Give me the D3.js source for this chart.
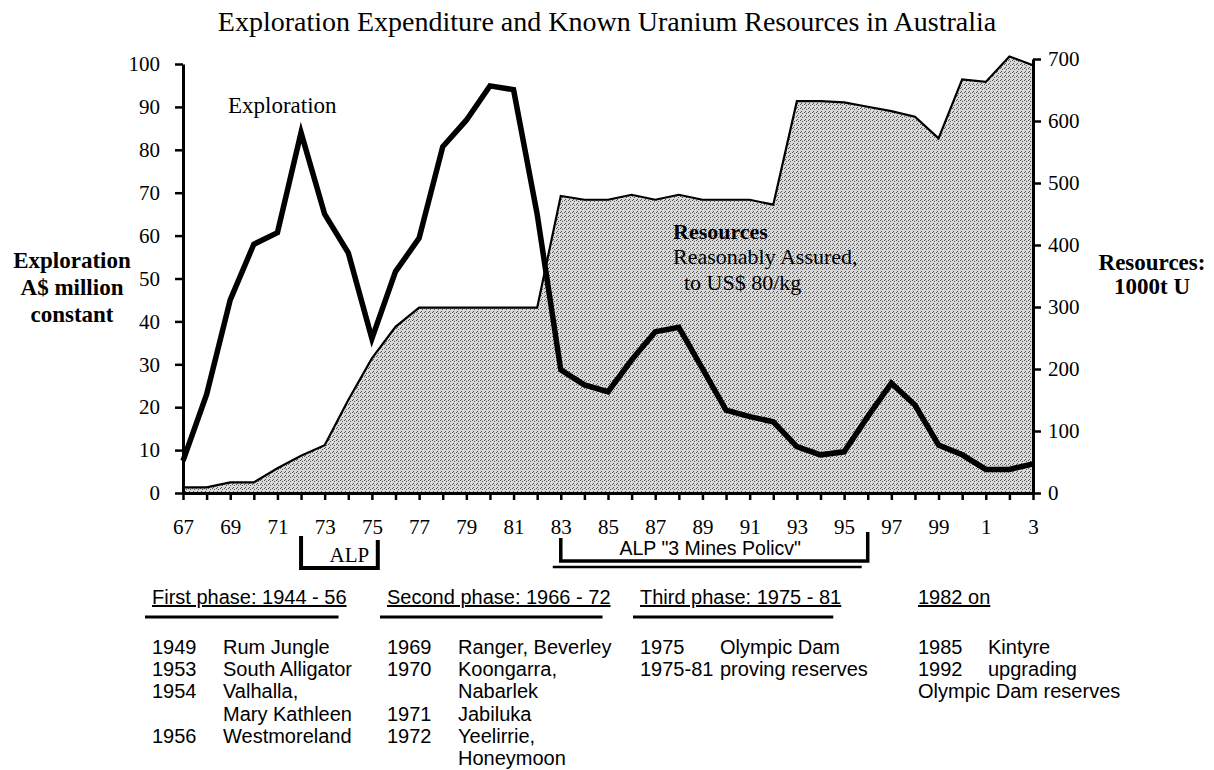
<!DOCTYPE html>
<html>
<head>
<meta charset="utf-8">
<script src="https://cdn.jsdelivr.net/npm/d3@7"></script>
<style>
  body { margin: 0; background: #fff; }
  svg { display: block; }
</style>
</head>
<body>
<svg id="chart" width="1214" height="770"></svg>
<script>
// data
const years = [1967, 1968, 1969, 1970, 1971, 1972, 1973, 1974, 1975, 1976, 1977, 1978, 1979,
  1980, 1981, 1982, 1983, 1984, 1985, 1986, 1987, 1988, 1989, 1990, 1991, 1992, 1993,
  1994, 1995, 1996, 1997, 1998, 1999, 2000, 2001, 2002, 2003];
// A$ million constant (left axis)
const exploration = [7.5, 23, 45, 58, 60.7, 84, 65, 56, 36, 51.6, 59.4, 80.7, 86.9,
  94.9, 94, 65, 28.7, 25.2, 23.6, 31, 37.6, 38.6, 29, 19.3, 17.8, 16.6, 10.8,
  8.9, 9.6, 17.8, 25.6, 20.5, 11.2, 8.9, 5.5, 5.5, 6.8];
// 1000t U, reasonably assured to US$ 80/kg (right axis)
const resources = [9, 9, 17, 17, 40, 60, 77, 150, 217, 268, 299, 299, 299,
  299, 299, 299, 479, 473, 473, 481, 473, 481, 473, 473, 473, 465, 632,
  632, 630, 623, 616, 607, 572, 667, 663, 704, 690];

const tickYears = [1967, 1969, 1971, 1973, 1975, 1977, 1979, 1981, 1983, 1985, 1987, 1989,
  1991, 1993, 1995, 1997, 1999, 2001, 2003];
const tickLabels = ["67", "69", "71", "73", "75", "77", "79", "81", "83", "85", "87", "89",
  "91", "93", "95", "97", "99", "1", "3"];
const leftTicks = [0, 10, 20, 30, 40, 50, 60, 70, 80, 90, 100];
const rightTicks = [0, 100, 200, 300, 400, 500, 600, 700];

const policyStart = [1972, 1983];
const policyEnd = [1975.25, 1996];
const policyLabels = ["ALP", "ALP \"3 Mines Policv\""];

const phaseHeads = ["First phase: 1944 - 56", "Second phase: 1966 - 72",
  "Third phase: 1975 - 81", "1982 on"];
const phaseRows = [
  [["1949", "Rum Jungle"], ["1953", "South Alligator"], ["1954", "Valhalla,"],
   ["", "Mary Kathleen"], ["1956", "Westmoreland"]],
  [["1969", "Ranger, Beverley"], ["1970", "Koongarra,"], ["", "Nabarlek"],
   ["1971", "Jabiluka"], ["1972", "Yeelirrie,"], ["", "Honeymoon"]],
  [["1975", "Olympic Dam"], ["1975-81", "proving reserves"]],
  [["1985", "Kintyre"], ["1992", "upgrading"], ["Olympic Dam reserves", ""]]
];

const SERIF = "'Liberation Serif', 'Times New Roman', serif";
const SANS = "'Liberation Sans', Arial, sans-serif";

const svg = d3.select("#chart");

const x = d3.scaleLinear().domain([1967, 2003]).range([183, 1033]);
const yL = d3.scaleLinear().domain([0, 100]).range([493, 64]);
const yR = d3.scaleLinear().domain([0, 700]).range([493, 59]);

// stipple fill like the printed original
const pat = svg.append("defs").append("pattern")
  .attr("id", "stipple").attr("width", 4).attr("height", 4)
  .attr("patternUnits", "userSpaceOnUse");
pat.append("rect").attr("width", 4).attr("height", 4).attr("fill", "#dadada");
[[0, 0], [2, 1], [1, 3]].forEach(p => {
  pat.append("rect").attr("x", p[0]).attr("y", p[1]).attr("width", 1).attr("height", 1)
    .attr("fill", "#555");
});

const resData = years.map((yr, i) => ({ year: yr, value: resources[i] }));
const expData = years.map((yr, i) => ({ year: yr, value: exploration[i] }));

svg.append("path")
  .datum(resData)
  .attr("fill", "url(#stipple)")
  .attr("d", d3.area().x(d => x(d.year)).y0(yR(0)).y1(d => yR(d.value)));

svg.append("path")
  .datum(resData)
  .attr("fill", "none")
  .attr("stroke", "#000")
  .attr("stroke-width", 2.2)
  .attr("d", d3.line().x(d => x(d.year)).y(d => yR(d.value)));

svg.append("path")
  .datum(expData)
  .attr("fill", "none")
  .attr("stroke", "#000")
  .attr("stroke-width", 5.5)
  .attr("stroke-linejoin", "miter")
  .attr("stroke-miterlimit", 6)
  .attr("d", d3.line().x(d => x(d.year)).y(d => yL(d.value)));

// axes
function styleAxis(g) {
  g.attr("font-family", SERIF).attr("font-size", 21);
  g.select(".domain").attr("stroke-width", 3);
  g.selectAll(".tick line").attr("stroke-width", 2.5);
  g.selectAll(".tick text").attr("fill", "#000");
}

svg.append("g")
  .attr("transform", "translate(0," + yL(0) + ")")
  .call(d3.axisBottom(x).tickValues(years).tickSize(7).tickSizeOuter(0).tickPadding(19)
    .tickFormat(d => {
      const k = tickYears.indexOf(d);
      return k < 0 ? "" : tickLabels[k];
    }))
  .call(styleAxis);

svg.append("g")
  .attr("transform", "translate(" + x(1967) + ",0)")
  .call(d3.axisLeft(yL).tickValues(leftTicks).tickSize(8).tickSizeOuter(0).tickPadding(15))
  .call(styleAxis);

svg.append("g")
  .attr("transform", "translate(" + x(2003) + ",0)")
  .call(d3.axisRight(yR).tickValues(rightTicks).tickSize(8).tickSizeOuter(0).tickPadding(7))
  .call(styleAxis);

// title
svg.append("text")
  .attr("x", 607).attr("y", 31)
  .attr("text-anchor", "middle")
  .attr("font-family", SERIF).attr("font-size", 28)
  .text("Exploration Expenditure and Known Uranium Resources in Australia");

// axis titles
const leftTitle = ["Exploration", "A$ million", "constant"];
svg.append("g").selectAll("text").data(leftTitle).enter().append("text")
  .attr("x", 72).attr("y", (d, i) => 268 + i * 27)
  .attr("text-anchor", "middle")
  .attr("font-family", SERIF).attr("font-size", 23).attr("font-weight", "bold")
  .text(d => d);

const rightTitle = ["Resources:", "1000t U"];
svg.append("g").selectAll("text").data(rightTitle).enter().append("text")
  .attr("x", 1152).attr("y", (d, i) => 270 + i * 24)
  .attr("text-anchor", "middle")
  .attr("font-family", SERIF).attr("font-size", 23).attr("font-weight", "bold")
  .text(d => d);

// series labels inside the plot
svg.append("text")
  .attr("x", 228).attr("y", 113)
  .attr("font-family", SERIF).attr("font-size", 23)
  .text("Exploration");

svg.append("text")
  .attr("x", 673).attr("y", 239)
  .attr("font-family", SERIF).attr("font-size", 22).attr("font-weight", "bold")
  .text("Resources");
svg.append("text")
  .attr("x", 673).attr("y", 264)
  .attr("font-family", SERIF).attr("font-size", 22)
  .text("Reasonably Assured,");
svg.append("text")
  .attr("x", 673).attr("y", 290)
  .attr("font-family", SERIF).attr("font-size", 22)
  .attr("xml:space", "preserve")
  .text("  to US$ 80/kg");

// ALP government brackets
const b0 = [x(policyStart[0]), x(policyEnd[0])];
svg.append("path")
  .attr("fill", "none").attr("stroke", "#000").attr("stroke-width", 4)
  .attr("d", "M" + b0[0] + ",536V568H" + b0[1] + "V540");
svg.append("text")
  .attr("x", (b0[0] + b0[1]) / 2 + 10).attr("y", 562)
  .attr("text-anchor", "middle")
  .attr("font-family", SERIF).attr("font-size", 21)
  .text(policyLabels[0]);

const b1 = [x(policyStart[1]), x(policyEnd[1])];
svg.append("path")
  .attr("fill", "none").attr("stroke", "#000").attr("stroke-width", 3.5)
  .attr("d", "M" + b1[0] + ",538V561H" + b1[1] + "V532");
svg.append("line")
  .attr("x1", b1[0] - 8).attr("x2", b1[1] - 6).attr("y1", 567).attr("y2", 567)
  .attr("stroke", "#000").attr("stroke-width", 2.5);
svg.append("text")
  .attr("x", (b1[0] + b1[1]) / 2 - 4).attr("y", 555)
  .attr("text-anchor", "middle")
  .attr("font-family", SANS).attr("font-size", 19.5)
  .text(policyLabels[1]);

// exploration phases table
const colYear = [152, 387, 640, 918];
const colName = [223, 458, 720, 988];
const rowStep = 22.2;

phaseHeads.forEach((h, c) => {
  const t = svg.append("text")
    .attr("x", colYear[c]).attr("y", 604)
    .attr("font-family", SANS).attr("font-size", 20)
    .attr("text-decoration", "underline")
    .text(h);
  if (c < 3) {
    const len = t.node().getComputedTextLength();
    svg.append("line")
      .attr("x1", colYear[c] - 7).attr("x2", colYear[c] + len - 8)
      .attr("y1", 617).attr("y2", 617)
      .attr("stroke", "#000").attr("stroke-width", 3);
  }
  const rows = svg.append("g")
    .attr("font-family", SANS).attr("font-size", 20)
    .selectAll("g").data(phaseRows[c]).enter().append("g");
  rows.append("text")
    .attr("x", colYear[c]).attr("y", (d, i) => 654 + i * rowStep)
    .text(d => d[0]);
  rows.append("text")
    .attr("x", colName[c]).attr("y", (d, i) => 654 + i * rowStep)
    .text(d => d[1]);
});
</script>
</body>
</html>
